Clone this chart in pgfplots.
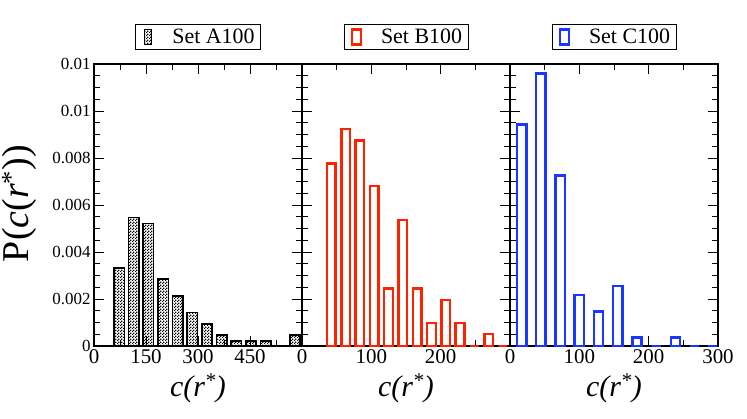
\documentclass[border=0pt]{standalone}
\usepackage{pgfplots}
\pgfplotsset{compat=1.18}
\usepackage{fontspec}
\setmainfont{Liberation Serif}
\usetikzlibrary{patterns}
\definecolor{gred}{RGB}{255,34,0}
\definecolor{gblue}{RGB}{25,55,255}

\pgfdeclarepatternformonly{finechecker}{\pgfpointorigin}{\pgfpoint{2.6bp}{2.6bp}}{\pgfpoint{2.6bp}{2.6bp}}{%
  \pgfpathrectangle{\pgfpointorigin}{\pgfpoint{1.3bp}{1.3bp}}%
  \pgfpathrectangle{\pgfpoint{1.3bp}{1.3bp}}{\pgfpoint{1.3bp}{1.3bp}}%
  \pgfusepath{fill}}

\pgfplotsset{
  panel/.style={
    scale only axis, width=208bp, height=282bp,
    ymin=0, ymax=0.012,
    ytick={0,0.002,0.004,0.006,0.008,0.01,0.012},
    scaled y ticks=false,
    minor y tick num=3,
    minor x tick num=1,
    tick align=inside,
    major tick length=10bp, minor tick length=6bp,
    axis line style={line width=1.1bp},
    every tick/.style={line width=0.9bp, black},
    xticklabel style={font=\fontsize{21}{21}\selectfont},
    yticklabel style={font=\fontsize{17}{17}\selectfont},
    xlabel style={font=\fontsize{30}{30}\selectfont, at={(axis description cs:0.5,0)}, anchor=center, yshift=-42bp},
    xlabel={\itshape c(r\textsuperscript{*})},
    legend style={at={(0.5,1)}, anchor=south, yshift=14bp, draw=black, line width=0.7bp,
      font=\fontsize{22}{22}\selectfont, inner xsep=3bp, inner ysep=2bp,
      nodes={inner xsep=3bp, inner ysep=2.5bp}},
  }
}

\begin{document}
\begin{tikzpicture}
\path[use as bounding box] (-94bp,-73bp) rectangle (653bp,346bp);

\begin{axis}[panel, at={(0bp,0bp)}, anchor=south west,
  xmin=0, xmax=600, xtick={0,150,300,450,600}, xticklabels={0,150,300,450,{}},
  yticklabels={0,0.002,0.004,0.006,0.008,0.01,0.01},
  ylabel={P(\textit{c}(\textit{r}\textsuperscript{*}))},
  ylabel style={font=\fontsize{38}{38}\selectfont, at={(axis description cs:-0.36,0.505)}, anchor=center},
  legend image code/.code={\draw[#1, line width=1.5bp] (6bp,-7.5bp) rectangle (13bp,7.5bp); \path[draw=none,fill=none] (0bp,0bp) (31bp,0bp);},
]
\addplot[ybar, bar width=30, draw=black, line width=1.6bp, pattern=finechecker, pattern color=black]
coordinates {
(72.7,0.00331) (114.9,0.00546) (157.2,0.00522) (199.5,0.00285) (241.7,0.00213)
(284.0,0.00142) (326.2,0.00094) (368.5,0.00047) (410.8,0.00021) (453.0,0.00021)
(495.3,0.00021) (537.5,0) (579.8,0.00047)
};
\legend{Set A100}
\end{axis}

\begin{axis}[panel, at={(208bp,0bp)}, anchor=south west,
  xmin=0, xmax=300, xtick={0,100,200,300}, xticklabels={0,100,200,{}},
  yticklabels={},
  legend image code/.code={\draw[#1] (5bp,-7.5bp) rectangle (14bp,7.5bp); \path[draw=none,fill=none] (0bp,0bp) (31bp,0bp);},
]
\addplot[ybar, bar width=12.5, draw=gred, line width=2.4bp, fill=white]
coordinates {
(42.3,0.00777) (63.0,0.00923) (83.6,0.00874) (104.2,0.00682) (124.8,0.00244)
(145.5,0.00536) (166.1,0.00244) (186.7,0.00098) (207.3,0.00196) (227.9,0.00098)
(248.5,0) (269.2,0.00051) (289.6,0)
};
\legend{Set B100}
\end{axis}

\begin{axis}[panel, at={(416bp,0bp)}, anchor=south west,
  xmin=0, xmax=300, xtick={0,100,200,300}, xticklabels={0,100,200,300},
  yticklabels={},
  legend image code/.code={\draw[#1] (5bp,-7.5bp) rectangle (14bp,7.5bp); \path[draw=none,fill=none] (0bp,0bp) (31bp,0bp);},
]
\addplot[ybar, bar width=13.4, draw=gblue, line width=2.4bp, fill=white]
coordinates {
(16.9,0.00943) (44.6,0.01160) (72.3,0.00725) (100.0,0.00217) (127.7,0.00146)
(155.4,0.00255) (183.1,0.00037) (210.8,0) (238.5,0.00037) (266.2,0) (292.0,0)
};
\legend{Set C100}
\end{axis}
\end{tikzpicture}
\end{document}
